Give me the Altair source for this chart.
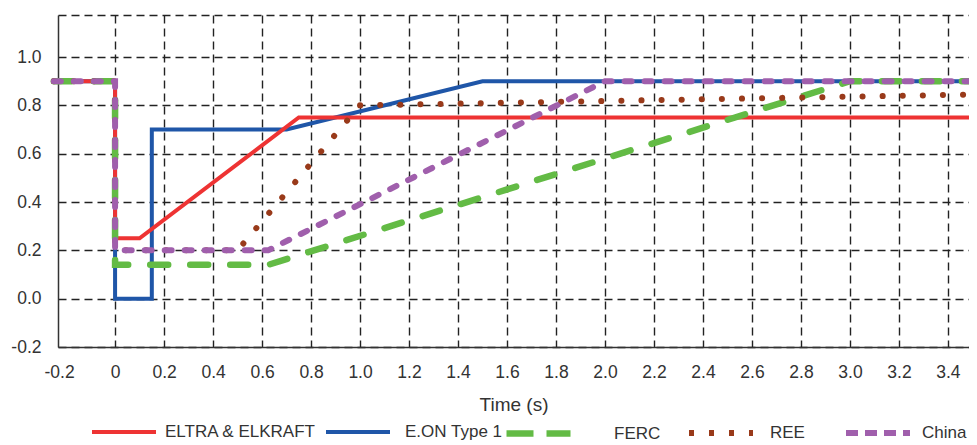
import altair as alt
import pandas as pd

# ---- data ----
series_names = ["ELTRA & ELKRAFT", "E.ON Type 1", "FERC", "REE", "China"]
series_colors = ["#EE3333", "#1F56A8", "#63BB45", "#993A1A", "#A05FAC"]

eltra_t = [-0.25, 0.0, 0.0, 0.1, 0.75, 3.5]
eltra_v = [0.9, 0.9, 0.25, 0.25, 0.75, 0.75]

eon_t = [-0.25, 0.0, 0.0, 0.15, 0.15, 0.7, 1.5, 3.5]
eon_v = [0.9, 0.9, 0.0, 0.0, 0.7, 0.7, 0.9, 0.9]

ferc_t = [-0.25, 0.0, 0.0, 0.625, 3.0, 3.5]
ferc_v = [0.9, 0.9, 0.14, 0.14, 0.9, 0.9]

ree_t = [-0.25, 0.0, 0.0, 0.5, 1.0, 3.5]
ree_v = [0.9, 0.9, 0.2, 0.2, 0.8, 0.845]

china_t = [-0.25, 0.0, 0.0, 0.625, 2.0, 3.5]
china_v = [0.9, 0.9, 0.2, 0.2, 0.9, 0.9]

x_ticks = [-0.2, 0.0, 0.2, 0.4, 0.6, 0.8, 1.0, 1.2, 1.4, 1.6, 1.8, 2.0,
           2.2, 2.4, 2.6, 2.8, 3.0, 3.2, 3.4]
y_ticks = [-0.2, 0.0, 0.2, 0.4, 0.6, 0.8, 1.0]
x_domain = [-0.233, 3.486]
y_domain = [-0.2, 1.174]
x_title = "Time  (s)"

# ---- styling ----
FONT = "Liberation Sans"
TXT = "#333333"
styles = [
    dict(width=4, dash=None, cap="butt", sym_dash=None, lx=32, off=7),
    dict(width=4, dash=None, cap="butt", sym_dash=None, lx=266, off=13),
    dict(width=6.5, dash=[18, 22], cap="round", sym_dash=[27, 13], lx=445, off=40),
    dict(width=6, dash=[0.1, 20], cap="round", sym_dash=[5, 15], lx=628, off=14),
    dict(width=6, dash=[7, 13], cap="round", sym_dash=[12, 7], lx=785, off=9),
]
series_data = [(eltra_t, eltra_v), (eon_t, eon_v), (ferc_t, ferc_v),
               (ree_t, ree_v), (china_t, china_v)]

x_axis = alt.Axis(
    values=x_ticks,
    grid=True,
    gridColor="#222222",
    gridDash=[8, 5],
    gridWidth=1.4,
    gridOpacity={"condition": {"test": "datum.value < -0.1", "value": 0}, "value": 1},
    ticks=False,
    tickSize=0,
    domainColor="#333333",
    domainWidth=1.5,
    labelExpr="(datum.value < 0 ? '-' : '') + (abs(datum.value) < 1e-9 ? '0' : format(abs(datum.value), '.1f'))",
    labelFont=FONT,
    labelFontSize=17.5,
    labelColor=TXT,
    labelPadding=16,
    labelOffset={"condition": {"test": "datum.value < -0.1", "value": -7}, "value": 0},
    title=x_title,
    titleFont=FONT,
    titleFontSize=19,
    titleFontWeight="normal",
    titleColor=TXT,
    titlePadding=15,
)
y_axis = alt.Axis(
    values=y_ticks + [y_domain[1]],
    grid=True,
    gridColor="#222222",
    gridDash=[8, 5],
    gridWidth=1.4,
    ticks=False,
    tickSize=0,
    domainColor="#333333",
    domainWidth=1.5,
    labelExpr="datum.value > 1.1 ? '' : (datum.value < 0 ? '-' : '') + format(abs(datum.value), '.1f')",
    labelFont=FONT,
    labelFontSize=17.5,
    labelColor=TXT,
    labelPadding=17,
    title=None,
)

layers = []
order = [1, 0, 2, 3, 4]  # drawing order
for k in order:
    name = series_names[k]
    color = series_colors[k]
    st = styles[k]
    t, v = series_data[k]
    df = pd.DataFrame({"t": t, "v": v, "i": list(range(len(t))), "series": [name] * len(t)})
    mk = dict(strokeWidth=st["width"], strokeCap=st["cap"], strokeJoin="miter")
    if st["dash"] is not None:
        mk["strokeDash"] = st["dash"]
    leg = dict(
        orient="none", legendX=st["lx"], legendY=383, title=None,
        symbolType="stroke", symbolSize=64 * 64, symbolStrokeWidth=st["width"],
        symbolStrokeColor=color,
        labelFont=FONT, labelFontSize=17, labelColor=TXT, labelOffset=st["off"],
        padding=0,
    )
    if st["sym_dash"] is not None:
        leg["symbolDash"] = st["sym_dash"]
    ch = alt.Chart(df).mark_line(**mk).encode(
        x=alt.X("t:Q", scale=alt.Scale(domain=x_domain, nice=False, zero=False), axis=x_axis),
        y=alt.Y("v:Q", scale=alt.Scale(domain=y_domain, nice=False, zero=False), axis=y_axis),
        order=alt.Order("i:Q"),
        color=alt.Color("series:N", scale=alt.Scale(domain=[name], range=[color]),
                        legend=alt.Legend(**leg)),
    )
    layers.append(ch)

chart = alt.layer(*layers).resolve_scale(color="independent").properties(
    width=911,
    height=332,
    padding={"left": 50, "top": 7, "right": 0, "bottom": 98},
    autosize=alt.AutoSizeParams(type="none"),
    background="white",
).configure_view(strokeWidth=0)

chart.save("out.html", embed_options={"renderer": "svg", "actions": False})
